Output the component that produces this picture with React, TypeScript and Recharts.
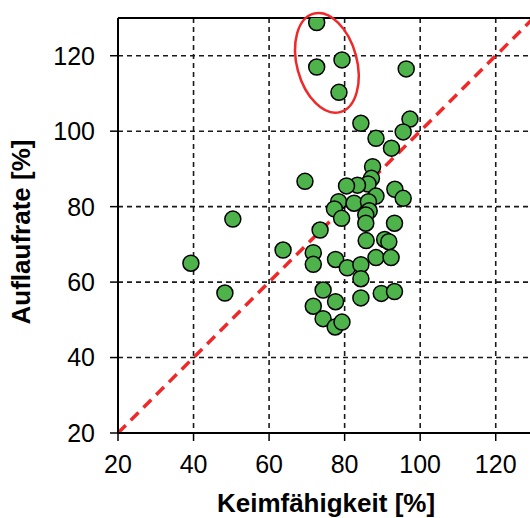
import React from "react";
import {
  ScatterChart,
  Scatter,
  XAxis,
  YAxis,
  CartesianGrid,
  ReferenceLine,
  ReferenceDot,
} from "recharts";

// Keimfähigkeit (x) vs. Auflaufrate (y), both in %
const keimfaehigkeit = [
  39.3, 48.3, 50.4, 63.7, 69.5, 72.6, 72.6, 79.3, 78.5, 96.3,
  84.3, 97.3, 95.5, 88.3, 92.4, 87.4, 87.1, 86.2, 83.4, 80.5,
  93.3, 95.5, 88.3, 78.4, 82.5, 86.3, 77.3, 86.5, 79.2, 85.6,
  85.6, 93.2, 73.5, 85.7, 90.6, 91.7, 71.7, 71.7, 77.6, 80.7,
  84.3, 88.3, 92.3, 84.3, 74.3, 89.7, 93.2, 77.6, 84.3, 71.7,
  74.3, 77.5, 79.3,
];
const auflaufrate = [
  65.0, 57.1, 76.7, 68.5, 86.7, 128.8, 117.0, 118.9, 110.3, 116.5,
  102.1, 103.2, 99.8, 98.1, 95.5, 90.6, 87.5, 86.0, 85.7, 85.5,
  84.6, 82.2, 82.8, 81.3, 80.9, 81.3, 79.4, 78.9, 76.9, 77.8,
  75.6, 75.6, 73.8, 71.0, 71.3, 70.7, 67.8, 64.7, 66.0, 63.8,
  64.6, 66.5, 66.5, 60.9, 57.9, 57.0, 57.5, 54.8, 55.8, 53.6,
  50.3, 48.1, 49.4,
];
const axisTicks = [20, 40, 60, 80, 100, 120];
const axisDomain = [20, 130];
// highlighted outliers (red ellipse)
const outlierCenter = { x: 75.3, y: 118.1 };

const points = keimfaehigkeit.map((x, i) => ({ x, y: auflaufrate[i] }));

const FONT = "'Liberation Sans', Arial, sans-serif";

const Dot = (props: any) => (
  <circle cx={props.cx} cy={props.cy} r={8} fill="#4DB34A" stroke="#000" strokeWidth={1.5} />
);

const Ellipse = (props: any) => (
  <ellipse
    cx={props.cx}
    cy={props.cy}
    rx={30}
    ry={51}
    fill="none"
    stroke="#F02828"
    strokeWidth={2.5}
    transform={`rotate(-15 ${props.cx} ${props.cy})`}
  />
);

export default function App() {
  return (
    <div style={{ position: "absolute", left: 0, top: 0, width: 530, height: 518, overflow: "hidden", background: "#fff" }}>
      <ScatterChart width={540} height={518} margin={{ top: 18, right: 6.5, bottom: 25, left: 0 }}>
        <CartesianGrid stroke="#1a1a1a" strokeWidth={1.6} strokeDasharray="5 4" />
        <XAxis
          type="number"
          dataKey="x"
          domain={axisDomain}
          ticks={axisTicks}
          height={60}
          allowDataOverflow
          axisLine={{ stroke: "#000", strokeWidth: 2 }}
          tickLine={{ stroke: "#000", strokeWidth: 1.5 }}
          tickSize={8}
          tickMargin={14}
          tick={{ fill: "#000", fontSize: 25, fontFamily: FONT }}
          label={{
            content: () => (
              <text x={326} y={512} textAnchor="middle" fontFamily={FONT} fontSize={26} fontWeight="bold" fill="#000">
                Keimfähigkeit [%]
              </text>
            ),
          }}
        />
        <YAxis
          type="number"
          dataKey="y"
          domain={axisDomain}
          ticks={axisTicks}
          width={118}
          allowDataOverflow
          axisLine={{ stroke: "#000", strokeWidth: 2 }}
          tickLine={{ stroke: "#000", strokeWidth: 1.5 }}
          tickSize={8}
          tickMargin={15}
          tick={{ fill: "#000", fontSize: 25, fontFamily: FONT }}
          label={{
            content: () => (
              <text
                x={30}
                y={232}
                textAnchor="middle"
                fontFamily={FONT}
                fontSize={26}
                fontWeight="bold"
                fill="#000"
                transform="rotate(-90 30 232)"
              >
                Auflaufrate [%]
              </text>
            ),
          }}
        />
        <ReferenceLine y={130} stroke="#000" strokeWidth={2} />
        <Scatter data={points} shape={Dot} isAnimationActive={false} />
        <ReferenceLine
          segment={[{ x: 20, y: 20 }, { x: 130, y: 130 }]}
          stroke="#F02828"
          strokeWidth={3.5}
          strokeDasharray="11 7"
        />
        <ReferenceDot x={outlierCenter.x} y={outlierCenter.y} shape={Ellipse} />
      </ScatterChart>
    </div>
  );
}
